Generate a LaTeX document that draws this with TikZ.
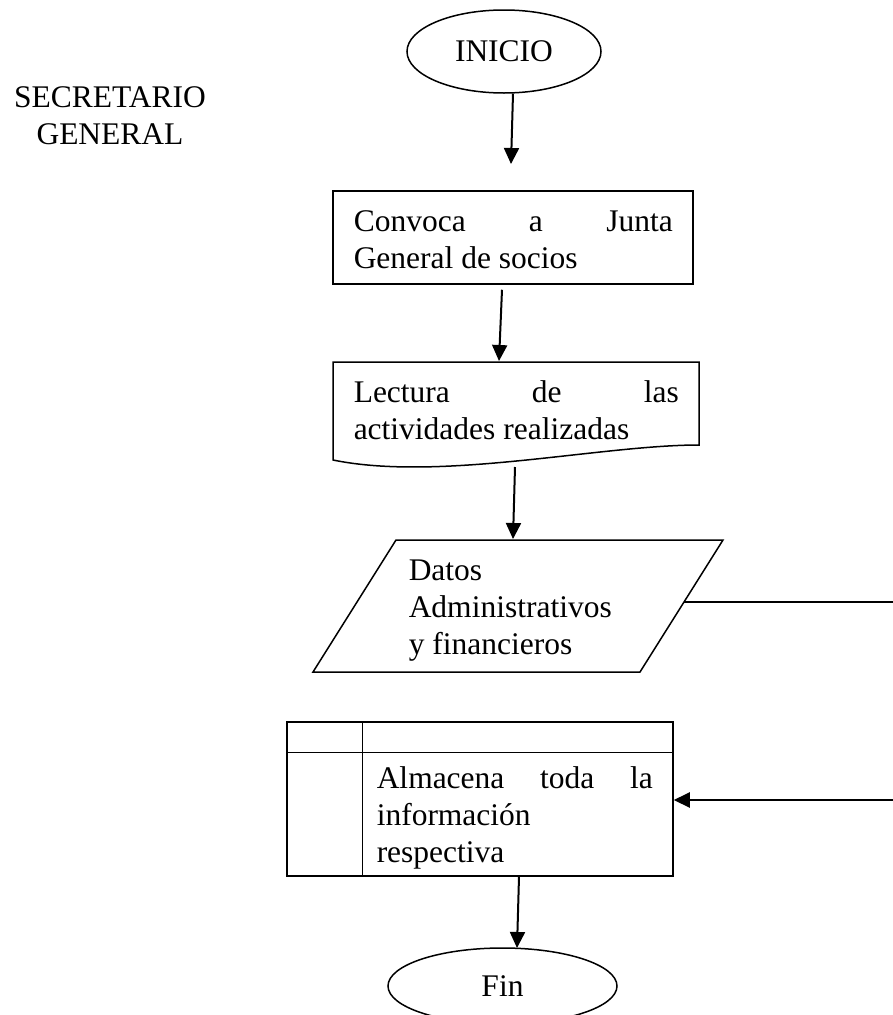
\documentclass[tikz,border=0pt]{standalone}
\usepackage{fontspec}
\setmainfont{Liberation Serif}
\usetikzlibrary{shapes.geometric,arrows.meta,calc}
\begin{document}
\begin{tikzpicture}[x=1pt,y=-1pt,line width=1.5pt,
  font=\fontsize{31.5}{37}\selectfont,
  arr/.style={-{Triangle[length=16pt,width=15pt]},line width=2pt},
  txt/.style={anchor=base west,inner sep=0pt},
  term/.style={ellipse,draw,inner sep=0pt}]
\clip (0,0) rectangle (893,1015);
\fill[white] (0,0) rectangle (893,1015);

% side label
\node[anchor=base,inner sep=0pt] (secr) at (110,107)
  {\parbox[t]{220pt}{\centering SECRETARIO\\GENERAL}};

% start
\node[term,minimum width=194pt,minimum height=83pt] (inicio) at (504,51.5) {INICIO};

% process box
\node[draw,rectangle,minimum width=360pt,minimum height=93pt,inner sep=0pt] (box1) at (513,237.5) {};
\node[txt] (tbox1) at (353,231)
  {\parbox[t]{319pt}{Convoca\hfill a\hfill Junta\\General de socios}};

% document shape
\draw (333,460) -- (333,362) -- (699,362) -- (699,445)
  .. controls (600,445) and (440,482) .. (333,460) -- cycle;
\node[txt] (tdoc) at (353,402)
  {\parbox[t]{325pt}{Lectura\hfill de\hfill las\\actividades realizadas}};
\coordinate (docb) at (515,467);

% data (parallelogram)
\coordinate (pTL) at (396,540);
\coordinate (pTR) at (723,540);
\coordinate (pBR) at (640,672);
\coordinate (pBL) at (313,672);
\draw (pTL) -- (pTR) -- (pBR) -- (pBL) -- cycle;
\node[txt] (tdatos) at (408,580)
  {\parbox[t]{300pt}{\raggedright Datos\\Administrativos\\y financieros}};
\coordinate (pR) at ($(pTR)!0.4697!(pBR)$);

% internal storage
\node[draw,rectangle,minimum width=386pt,minimum height=154pt,inner sep=0pt] (alm) at (480,799) {};
\draw ($(alm.north west)+(0,31)$) -- ($(alm.north east)+(0,31)$);
\draw ($(alm.north west)+(76,0)$) -- ($(alm.south west)+(76,0)$);
\node[txt] (talm) at (376,788)
  {\parbox[t]{276pt}{Almacena\hfill toda\hfill la\\información\\respectiva}};

% end
\node[term,minimum width=229pt,minimum height=76pt] (fin) at (502.5,986) {Fin};

% connectors
\coordinate (t1) at (511,164);
\coordinate (t2) at (499,361);
\coordinate (t3) at (513,539);
\coordinate (t4) at (517,948);
\draw[arr] ($(inicio.south)+(9,0)$) -- (t1);
\draw[arr] ($(box1.south)+(-11,5)$) -- (t2);
\draw[arr] (docb) -- (t3);
\draw[arr] ($(alm.south)+(39,0)$) -- (t4);
\draw[line width=1.8pt] (pR) -- (960,602) -- (960,800) -- (1000,800);
\draw[arr] (960,800) -- ($(alm.east)+(0,1)$);
\end{tikzpicture}
\end{document}
